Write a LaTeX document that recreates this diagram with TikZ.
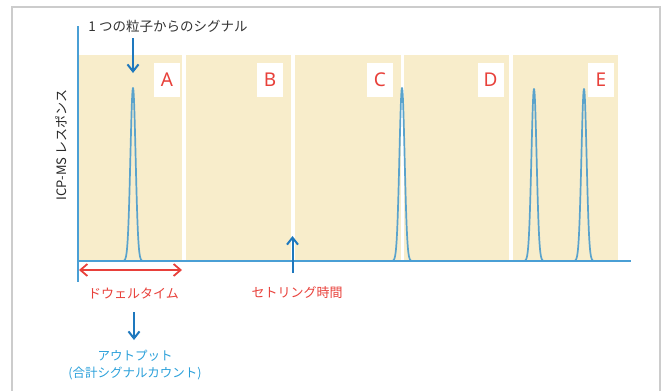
\documentclass[tikz,border=0pt]{standalone}
\usepackage{fontspec}
\newfontfamily\jp{Noto Sans CJK JP}
\newfontfamily\lat{Noto Sans}
\usetikzlibrary{arrows.meta}
\definecolor{beige}{HTML}{F8EDCB}
\definecolor{axisblue}{HTML}{4A9FD5}
\definecolor{arrblue}{HTML}{1E78BE}
\definecolor{peakblue}{HTML}{5AA3CC}
\definecolor{lred}{HTML}{E8403A}
\definecolor{tblue}{HTML}{2BA0DA}
\definecolor{frame}{HTML}{CCCCCC}
\tikzset{
  panel/.style={fill=beige, draw=none},
  letterbox/.style={fill=white, minimum width=26pt, minimum height=34pt, inner sep=0pt, text=lred, font=\lat\fontsize{19}{19}\selectfont},
  axis/.style={draw=axisblue, line width=1.8pt},
  peak/.style={draw=peakblue, line width=1.7pt},
  bluearrow/.style={draw=arrblue, line width=2pt, -{Straight Barb[length=7pt,width=11pt]}},
  redarrow/.style={draw=lred, line width=1.8pt, {Straight Barb[length=7pt,width=12pt]}-{Straight Barb[length=7pt,width=12pt]}},
  lbl/.style={inner sep=0pt, font=\jp\fontsize{13}{14}\selectfont}
}
\begin{document}
\begin{tikzpicture}[x=1pt,y=-1pt]
\useasboundingbox (0,0) rectangle (665,391);
% frame
\draw[frame, line width=1.5pt] (12,395) -- (12,7) -- (660,7) -- (660,395);
% panels
\fill[beige] (78,55) rectangle (182,261);
\fill[beige] (186,55) rectangle (290.5,261);
\fill[beige] (295,55) rectangle (400.5,261);
\fill[beige] (404,55) rectangle (509,261);
\fill[beige] (513,55) rectangle (618,261);
% letter boxes
\node[letterbox] (A) at (167,80) {A};
\node[letterbox] (B) at (270,80) {B};
\node[letterbox] (C) at (380,80) {C};
\node[letterbox] (D) at (490.5,80) {D};
\node[letterbox] (E) at (601,80) {E};
% peaks
\foreach \c/\t in {133/88, 402/88, 534/89, 584/89}{
  \draw[peak] plot[domain=-9:9, samples=80, smooth] ({\c+\x},{261-(261-\t)*exp(-\x*\x/13.5)});
}
% axes
\coordinate (o) at (78,261);
\coordinate (ytop) at (78,26);
\coordinate (ybot) at (78,282);
\coordinate (xend) at (631,261);
\draw[axis] (ytop) -- (ybot);
\draw[axis] (o) -- (xend);
% y label
\node[lbl, rotate=90, text=black!85] (ylab) at (61,145) {ICP-MS レスポンス};
% top label and arrow
\node[lbl, text=black!80, font=\jp\fontsize{13.5}{15}\selectfont] (sig) at (168,26) {1 つの粒子からのシグナル};
\coordinate (sigs) at (133,38);
\coordinate (sige) at (133,73);
\draw[bluearrow] (sigs) -- (sige);
% dwell time
\coordinate (dl) at (79,270);
\coordinate (dr) at (182,270);
\draw[redarrow] (dl) -- (dr);
\node[lbl, text=lred] (dwell) at (133.5,293) {ドウェルタイム};
% settling
\coordinate (ss) at (292.5,273);
\coordinate (se) at (292.5,236);
\draw[bluearrow] (ss) -- (se);
\node[lbl, text=lred] (settle) at (297,293) {セトリング時間};
% output
\coordinate (os) at (134,312);
\coordinate (oe) at (134,340);
\draw[bluearrow] (os) -- (oe);
\node[lbl, text=tblue, align=center, font=\jp\fontsize{12.5}{17.5}\selectfont] (out) at (135,365) {アウトプット\\(合計シグナルカウント)};
\end{tikzpicture}
\end{document}
